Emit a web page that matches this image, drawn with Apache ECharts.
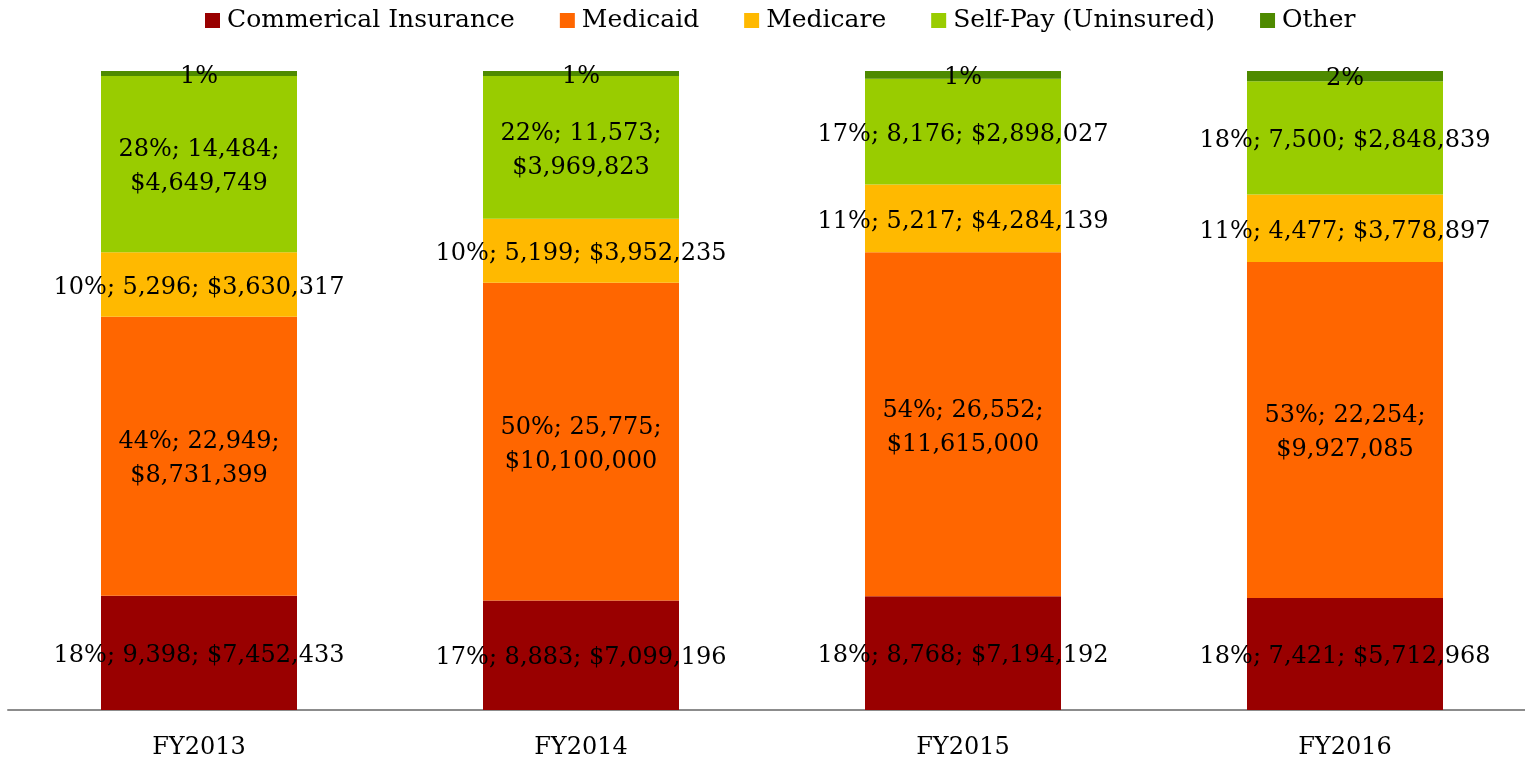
<!DOCTYPE html>
<html>
<head>
<meta charset="utf-8">
<script src="https://cdn.jsdelivr.net/npm/echarts@6/dist/echarts.min.js"></script>
<style>
html,body{margin:0;padding:0;background:#fff;overflow:hidden;width:1525px;height:760px;}
#chart{width:1536px;height:760px;}
</style>
</head>
<body>
<div id="chart"></div>
<script>
// Categories
var categories = ['FY2013', 'FY2014', 'FY2015', 'FY2016'];
// Series names
var seriesNames = ['Commerical Insurance', 'Medicaid', 'Medicare', 'Self-Pay (Uninsured)', 'Other'];
// Visit counts per payer (Other)
var commercial = [9398, 8883, 8768, 7421];
var medicaid   = [22949, 25775, 26552, 22254];
var medicare   = [5296, 5199, 5217, 4477];
var selfPay    = [14484, 11573, 8176, 7500];
var other      = [420, 415, 590, 680];
// Data labels as shown
var commercialLabels = ['18%; 9,398; $7,452,433', '17%; 8,883; $7,099,196', '18%; 8,768; $7,194,192', '18%; 7,421; $5,712,968'];
var medicaidLabels   = ['44%; 22,949;\n$8,731,399', '50%; 25,775;\n$10,100,000', '54%; 26,552;\n$11,615,000', '53%; 22,254;\n$9,927,085'];
var medicareLabels   = ['10%; 5,296; $3,630,317', '10%; 5,199; $3,952,235', '11%; 5,217; $4,284,139', '11%; 4,477; $3,778,897'];
var selfPayLabels    = ['28%; 14,484;\n$4,649,749', '22%; 11,573;\n$3,969,823', '17%; 8,176; $2,898,027', '18%; 7,500; $2,848,839'];
var otherLabels      = ['1%', '1%', '1%', '2%'];

var colors = ['#990000', '#FF6600', '#FFB900', '#99CC00', '#4E8A00'];
var FONT = 'DejaVu Serif';

var raw = [commercial, medicaid, medicare, selfPay, other];
var labs = [commercialLabels, medicaidLabels, medicareLabels, selfPayLabels, otherLabels];
var totals = categories.map(function (_, i) {
  return raw.reduce(function (s, arr) { return s + arr[i]; }, 0);
});

var series = raw.map(function (arr, si) {
  return {
    name: seriesNames[si],
    type: 'bar',
    stack: 'total',
    barWidth: 196,
    itemStyle: { color: colors[si] },
    label: {
      show: true,
      position: 'inside',
      offset: [0, 3],
      color: '#000',
      fontFamily: FONT,
      fontSize: 24,
      lineHeight: 34,
      formatter: function (p) { return labs[si][p.dataIndex]; }
    },
    emphasis: { disabled: true },
    data: arr.map(function (v, i) { return v / totals[i] * 100; })
  };
});

var chart = echarts.init(document.getElementById('chart'), null, { renderer: 'canvas' });
chart.setOption({
  animation: false,
  backgroundColor: '#fff',
  color: colors,
  legend: {
    top: 3,
    left: 200,
    itemWidth: 15,
    itemHeight: 15,
    itemGap: 45,
    icon: 'rect',
    textStyle: { fontFamily: FONT, fontSize: 25, color: '#000', padding: [0, 0, 0, 2] },
    data: seriesNames
  },
  grid: { left: 8, top: 71, bottom: 49, right: 0, containLabel: false },
  xAxis: {
    type: 'category',
    data: categories,
    axisLine: { lineStyle: { color: '#8c8c8c', width: 2 } },
    axisTick: { show: false },
    axisLabel: { fontFamily: FONT, fontSize: 24, color: '#000', margin: 26 }
  },
  yAxis: { type: 'value', min: 0, max: 100, show: false, splitLine: { show: false } },
  series: series
});
</script>
</body>
</html>
